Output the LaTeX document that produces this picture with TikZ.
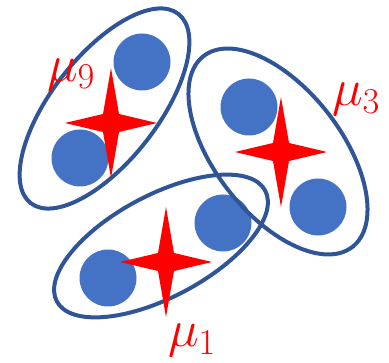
\RequirePackage{fix-cm}
\documentclass[tikz,border=0pt]{standalone}
\usetikzlibrary{shapes.geometric}
\definecolor{dotblue}{HTML}{4472C4}
\definecolor{ringblue}{HTML}{2F5597}
\newcommand\sparkle[1]{%
  \fill[mean,shift={(#1)}] (46,0) -- (8,9) -- (0,55) -- (-8,9) -- (-46,0)
    -- (-8,-9) -- (0,-55) -- (8,-9) -- cycle;}
\begin{document}
\begin{tikzpicture}[
    x=1pt,y=1pt,
    dot/.style={circle,fill=dotblue,minimum size=57pt,inner sep=0pt},
    ring/.style={ellipse,draw=ringblue,line width=4pt,inner sep=0pt},
    mean/.style={fill=red},
    lbl/.style={text=red,inner sep=0pt,font=\fontsize{52}{58}\selectfont}
]
    \useasboundingbox (0,0) rectangle (389,363);
    % cluster centres
    \coordinate (s9) at (111,240);
    \coordinate (s3) at (281,211);
    \coordinate (s1) at (166,101);
    % points
    \node[dot] (A) at ([shift={(31,61)}]s9) {};
    \node[dot] (B) at ([shift={(-31,-35)}]s9) {};
    \node[dot] (C) at ([shift={(-32,45)}]s3) {};
    \node[dot] (D) at ([shift={(37,-55)}]s3) {};
    \node[dot] (E) at ([shift={(-58,-16)}]s1) {};
    \node[dot] (F) at ([shift={(57,39)}]s1) {};
    % clusters
    \node[ring,minimum width=240pt,minimum height=106pt,rotate=52] (C9) at (104.5,254.5) {};
    \node[ring,minimum width=242pt,minimum height=126pt,rotate=-52] (C3) at (278,211.5) {};
    \node[ring,minimum width=236pt,minimum height=102pt,rotate=28] (C1) at (161,117) {};
    % means
    \sparkle{s9}
    \sparkle{s3}
    \sparkle{s1}
    \node[lbl] (m9) at (71,288) {$\mu_9$};
    \node[lbl] (m3) at (356,263.5) {$\mu_3$};
    \node[lbl] (m1) at (192,22.5) {$\mu_1$};
\end{tikzpicture}
\end{document}
